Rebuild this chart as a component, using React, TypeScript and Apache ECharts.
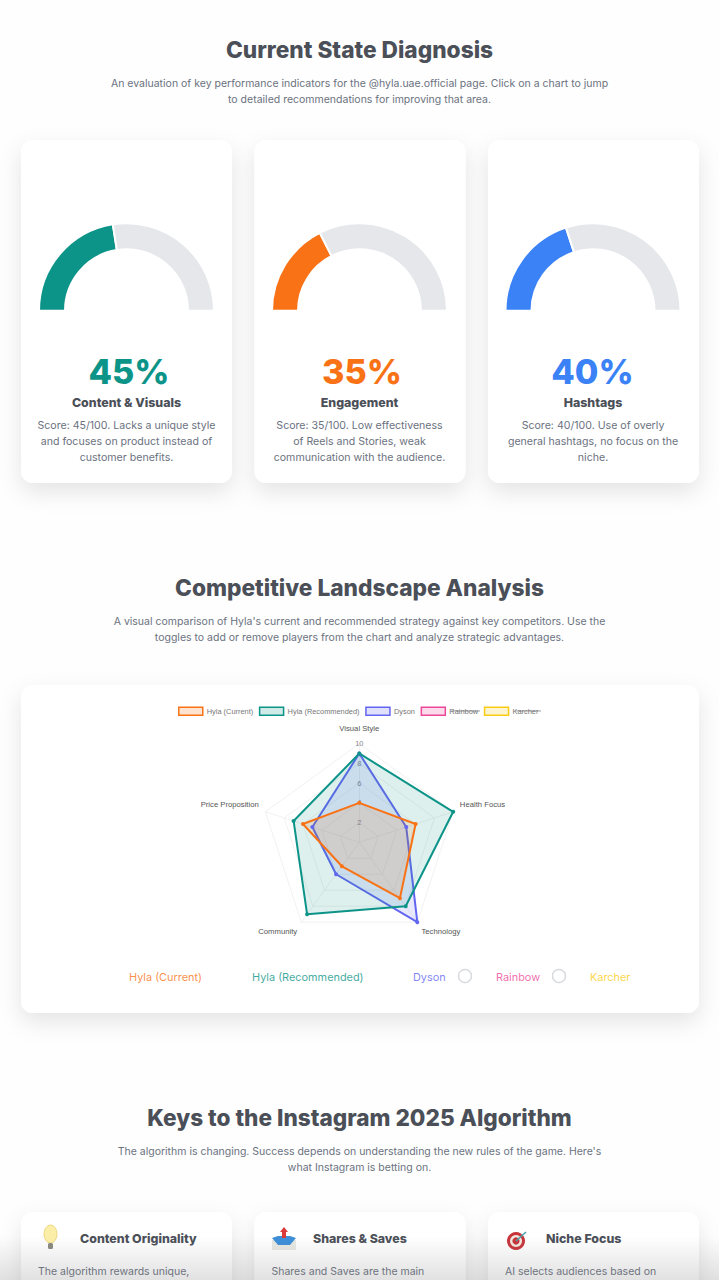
import React, { useEffect, useRef } from "react";
import * as echarts from "echarts";

const W = 719;
const H = 1280;
const HEAD = "Inter, 'Noto Sans', sans-serif";
const BODY = "Inter, 'Noto Sans', sans-serif";
const SMALL = "'Liberation Sans', sans-serif";

const gaugeScores = [45, 35, 40];
const gaugeColors = ["#0D9488", "#F97316", "#3B82F6"];
const gaugeCenters = [126.5, 359.5, 593];
const gaugeLabels = ["45%", "35%", "40%"];
const gaugeLabelX = [129, 362, 592.5];
const gaugeTitles = ["Content & Visuals", "Engagement", "Hashtags"];
const gaugeTexts = [
  ["Score: 45/100. Lacks a unique style", "and focuses on product instead of", "customer benefits."],
  ["Score: 35/100. Low effectiveness", "of Reels and Stories, weak", "communication with the audience."],
  ["Score: 40/100. Use of overly", "general hashtags, no focus on the", "niche."],
];
// ECharts lays radar indicators out counter-clockwise from the top.
const axes = ["Visual Style", "Price Proposition", "Community", "Technology", "Health Focus"];
const axisNameStyles = ["top", "side", "low", "low", "side"];
const hylaCurrent = [4, 6, 3, 7, 6];
const hylaRecommended = [9, 7, 9, 8, 10];
const dyson = [9, 5, 4, 10, 5];
const legendNames = ["Hyla (Current)", "Hyla (Recommended)", "Dyson", "Rainbow", "Karcher"];
const legendColors = ["#F97316", "#0D9488", "#6366F1", "#EC4899", "#FACC15"];
const legendFills = ["rgba(249,115,22,.2)", "rgba(13,148,136,.2)", "rgba(99,102,241,.2)", "rgba(236,72,153,.2)", "rgba(250,204,21,.2)"];
const toggleX = [129, 252, 413, 496, 590];
const toggleCircles = [465, 559];
const cardX = [21, 254.5, 488];
const algoTitles = ["Content Originality", "Shares & Saves", "Niche Focus"];
const algoTitleX = [80, 313, 546];
const algoTexts = ["The algorithm rewards unique,", "Shares and Saves are the main", "AI selects audiences based on"];

const text = (t: string, x: number, y: number, size: number, color: string, weight = 400, align = "left", font = BODY) => ({
  type: "text" as const,
  x,
  y,
  z: 5,
  style: { text: t, fontSize: size, fontWeight: weight, fontFamily: font, fill: color, align, verticalAlign: "middle" },
});
const card = (x: number, y: number, w: number, h: number) => ({
  type: "rect" as const,
  z: 1,
  shape: { x, y, width: w, height: h, r: 12 },
  style: { fill: "#fff", shadowBlur: 22, shadowOffsetY: 9, shadowColor: "rgba(0,0,0,0.10)" },
});

function buildOption() {
  const graphics: any[] = [];
  cardX.forEach((x) => graphics.push(card(x, 140, 211, 343)));
  graphics.push(card(21, 685, 678, 328));
  cardX.forEach((x) => graphics.push(card(x, 1212, 211, 120)));

  const dark = "#4B4F58";
  const gray = "#6B7280";
  graphics.push(text("Current State Diagnosis", W / 2, 49, 22.7, dark, 800, "center", HEAD));
  graphics.push(text("An evaluation of key performance indicators for the @hyla.uae.official page. Click on a chart to jump", W / 2, 83, 10.5, gray, 400, "center"));
  graphics.push(text("to detailed recommendations for improving that area.", W / 2, 99, 10.5, gray, 400, "center"));
  gaugeCenters.forEach((cx, i) => {
    graphics.push(text(gaugeLabels[i], gaugeLabelX[i], 371, 34.2, gaugeColors[i], 800, "center", HEAD));
    graphics.push(text(gaugeTitles[i], cx, 402, 12.4, dark, 800, "center", HEAD));
    gaugeTexts[i].forEach((l, k) => graphics.push(text(l, cx, 425.5 + k * 16.2, 10.6, gray, 400, "center")));
  });

  graphics.push(text("Competitive Landscape Analysis", W / 2, 587, 22.7, dark, 800, "center", HEAD));
  graphics.push(text("A visual comparison of Hyla's current and recommended strategy against key competitors. Use the", W / 2, 621, 10.5, gray, 400, "center"));
  graphics.push(text("toggles to add or remove players from the chart and analyze strategic advantages.", W / 2, 637, 10.5, gray, 400, "center"));
  graphics.push({ type: "line", z: 6, shape: { x1: 451, y1: 711, x2: 480, y2: 711 }, style: { stroke: "#777", lineWidth: 0.7 } });
  graphics.push({ type: "line", z: 6, shape: { x1: 515, y1: 711, x2: 541, y2: 711 }, style: { stroke: "#777", lineWidth: 0.7 } });

  legendNames.forEach((n, i) => {
    const t = text(n, toggleX[i], 977, 10.9, legendColors[i], 400);
    (t.style as any).opacity = 0.8;
    graphics.push(t);
  });
  toggleCircles.forEach((cx) =>
    graphics.push({ type: "circle", z: 5, shape: { cx, cy: 976, r: 6.5 }, style: { fill: "#fff", stroke: "#D8DADD", lineWidth: 1.4 } }),
  );

  graphics.push(text("Keys to the Instagram 2025 Algorithm", W / 2, 1117, 22.6, dark, 800, "center", HEAD));
  graphics.push(text("The algorithm is changing. Success depends on understanding the new rules of the game. Here's", W / 2, 1151, 10.5, gray, 400, "center"));
  graphics.push(text("what Instagram is betting on.", W / 2, 1167, 10.5, gray, 400, "center"));
  algoTitles.forEach((t, i) => {
    graphics.push(text(t, algoTitleX[i], 1238, 12.4, dark, 800, "left", HEAD));
    graphics.push(text(algoTexts[i], cardX[i] + 17, 1271, 10.5, gray));
  });

  // bulb icon
  graphics.push({ type: "ellipse", z: 5, shape: { cx: 50.5, cy: 1234, rx: 6.5, ry: 9 }, style: { fill: "#FBEFA8", stroke: "#E9CF6E", lineWidth: 0.8 } });
  graphics.push({ type: "rect", z: 5, shape: { x: 48, y: 1243, width: 5, height: 6, r: 1.5 }, style: { fill: "#8A8A80" } });
  // inbox icon
  graphics.push({ type: "rect", z: 5, shape: { x: 272, y: 1240, width: 24, height: 10 }, style: { fill: "#E8E8E4" } });
  graphics.push({ type: "polygon", z: 5, shape: { points: [[272, 1238], [278, 1236], [290, 1236], [296, 1238], [290, 1245], [278, 1245]] }, style: { fill: "#3D8FD9" } });
  graphics.push({ type: "polygon", z: 6, shape: { points: [[284, 1227], [288, 1232], [286, 1232], [286, 1238], [282, 1238], [282, 1232], [280, 1232]] }, style: { fill: "#D93A3A" } });
  // target icon
  graphics.push({ type: "circle", z: 5, shape: { cx: 516, cy: 1241, r: 9 }, style: { fill: "#C8343A" } });
  graphics.push({ type: "circle", z: 5, shape: { cx: 516, cy: 1241, r: 6 }, style: { fill: "#F3E8E0" } });
  graphics.push({ type: "circle", z: 5, shape: { cx: 516, cy: 1241, r: 3.6 }, style: { fill: "#C8343A" } });
  graphics.push({ type: "line", z: 6, shape: { x1: 516, y1: 1241, x2: 526, y2: 1232 }, style: { stroke: "#4AA3A8", lineWidth: 1.6 } });

  // bottom fade
  graphics.push({
    type: "rect",
    z: 50,
    shape: { x: 0, y: 1236, width: W, height: 44 },
    style: {
      fill: new echarts.graphic.LinearGradient(0, 0, 0, 1, [
        { offset: 0, color: "rgba(120,120,120,0)" },
        { offset: 1, color: "rgba(120,120,120,0.22)" },
      ]),
    },
  });

  const gauges = gaugeScores.map((s, i) => ({
    type: "pie",
    silent: true,
    radius: [61.5, 87.5],
    center: [gaugeCenters[i], 310.8],
    startAngle: 180,
    endAngle: 0,
    label: { show: false },
    labelLine: { show: false },
    itemStyle: { borderColor: "#fff", borderWidth: 2 },
    data: [
      { value: s, name: "score", itemStyle: { color: gaugeColors[i] } },
      { value: 100 - s, name: "rest", itemStyle: { color: "#E5E7EB" } },
    ],
  }));

  const radarItem = (idx: number, values: number[]) => ({
    name: legendNames[idx],
    value: values,
    symbol: "circle",
    symbolSize: 4,
    itemStyle: { color: legendColors[idx] },
    lineStyle: { color: legendColors[idx], width: 2 },
    areaStyle: { color: legendFills[idx] },
  });
  const hiddenItem = (idx: number) => ({
    name: legendNames[idx],
    value: [],
    symbol: "none",
    lineStyle: { opacity: 0 },
    areaStyle: { opacity: 0 },
  });

  const nameFont = { fontSize: 7.7, color: "#555", fontFamily: SMALL };

  return {
    animation: false,
    backgroundColor: "#FEFEFE",
    legend: {
      left: 178,
      top: 706.5,
      padding: 0,
      orient: "horizontal",
      icon: "rect",
      itemWidth: 24,
      itemHeight: 8,
      itemGap: 5.7,
      textStyle: { fontSize: 7.4, color: "#777", fontFamily: SMALL, padding: [0, 0, 0, -1] },
      selectedMode: false,
      data: legendNames.map((n, i) => ({
        name: n,
        itemStyle: { color: legendFills[i], borderColor: legendColors[i], borderWidth: 1.5, opacity: 1 },
      })),
    },
    radar: {
      z: 2,
      center: [359.3, 842.3],
      radius: 98.7,
      startAngle: 90,
      splitNumber: 5,
      shape: "polygon",
      axisName: {
        ...nameFont,
        formatter: (name: string) => `{${axisNameStyles[axes.indexOf(name)]}|${name}}`,
        rich: {
          top: { ...nameFont, padding: [0, 0, 4, 0] },
          side: { ...nameFont, padding: [0, 0, 10, 0] },
          low: { ...nameFont, padding: [8, 0, 0, 0] },
        },
      },
      nameGap: 7,
      splitArea: { show: false },
      splitLine: { lineStyle: { color: "#EDEDED", width: 0.8 } },
      axisLine: { lineStyle: { color: "#EDEDED", width: 0.8 } },
      indicator: axes.map((name, i) => ({
        name,
        min: 0,
        max: 10,
        ...(i === 0
          ? {
              axisLabel: {
                show: true,
                showMinLabel: false,
                margin: 0,
                align: "center",
                color: "#888",
                fontSize: 7.4,
                fontFamily: SMALL,
              },
            }
          : {}),
      })),
    },
    graphic: { elements: graphics },
    series: [
      ...gauges,
      {
        type: "radar",
        z: 3,
        silent: true,
        data: [radarItem(2, dyson), radarItem(1, hylaRecommended), radarItem(0, hylaCurrent), hiddenItem(3), hiddenItem(4)],
      },
    ],
  };
}

export default function App() {
  const ref = useRef<HTMLDivElement>(null);
  useEffect(() => {
    document.body.style.margin = "0";
    const chart = echarts.init(ref.current!, undefined, { renderer: "svg" });
    chart.setOption(buildOption() as any);
    return () => chart.dispose();
  }, []);
  return <div ref={ref} style={{ width: W, height: H, overflow: "hidden" }} />;
}
